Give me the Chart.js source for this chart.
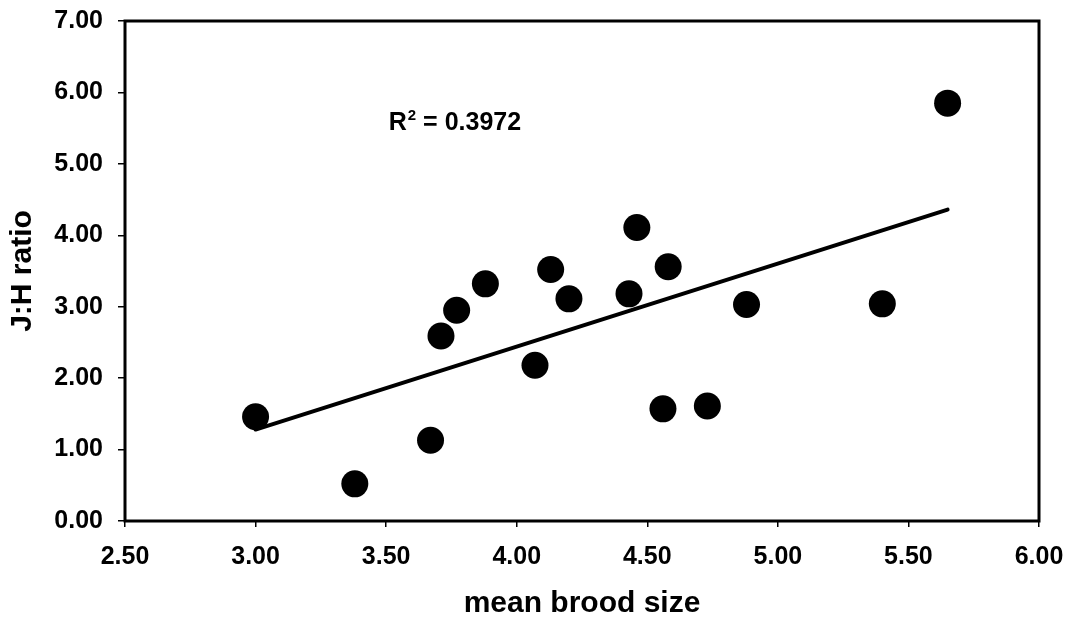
<!DOCTYPE html>
<html>
<head>
<meta charset="utf-8">
<script src="https://cdn.jsdelivr.net/npm/chart.js@4.4.1/dist/chart.umd.min.js"></script>
<style>
html, body { margin: 0; padding: 0; background: #fff; }
</style>
</head>
<body>
<canvas id="chart" width="1070" height="619"></canvas>
<script>
// mean brood size vs J:H ratio
const broodSize = [3.00, 3.38, 3.67, 3.71, 3.77, 3.88, 4.07, 4.13, 4.20, 4.43, 4.46, 4.58, 4.56, 4.73, 4.88, 5.40, 5.65];
const jhRatio   = [1.46, 0.52, 1.13, 2.59, 2.95, 3.32, 2.18, 3.52, 3.11, 3.18, 4.11, 3.56, 1.57, 1.61, 3.03, 3.04, 5.85];

// trend line, ends as drawn in the figure
const trendX = [3.00, 5.65];
const trendY = [1.28, 4.36];

const xTickLabels = ['2.50', '3.00', '3.50', '4.00', '4.50', '5.00', '5.50', '6.00'];
const yTickLabels = ['0.00', '1.00', '2.00', '3.00', '4.00', '5.00', '6.00', '7.00'];
const rSquared = '0.3972';

const FONT = '"Liberation Sans", Arial, Helvetica, sans-serif';

// box round the plot + the R^2 text
const frame = {
  id: 'frame',
  afterDraw(chart) {
    const { ctx, chartArea: a, scales } = chart;
    ctx.save();
    ctx.strokeStyle = '#000';
    ctx.lineWidth = 3;
    ctx.strokeRect(a.left, a.top, a.right - a.left, a.bottom - a.top);

    let x = scales.x.getPixelForValue(3.51);
    const y = scales.y.getPixelForValue(5.48);
    ctx.fillStyle = '#000';
    ctx.textAlign = 'left';
    ctx.textBaseline = 'alphabetic';
    ctx.font = 'bold 25px ' + FONT;
    ctx.fillText('R', x, y);
    x += ctx.measureText('R').width + 1;
    ctx.font = 'bold 15px ' + FONT;
    ctx.fillText('2', x, y - 10);
    x += ctx.measureText('2').width;
    ctx.font = 'bold 25px ' + FONT;
    ctx.fillText(' = ' + rSquared, x, y);
    ctx.restore();
  }
};

const points = broodSize.map((b, i) => ({ x: b, y: jhRatio[i] }));
const trend = trendX.map((t, i) => ({ x: t, y: trendY[i] }));

new Chart(document.getElementById('chart'), {
  type: 'scatter',
  data: {
    datasets: [
      {
        label: 'J:H ratio',
        data: points,
        pointRadius: 13.5,
        pointHoverRadius: 13.5,
        backgroundColor: '#000',
        borderWidth: 0
      },
      {
        type: 'line',
        label: 'trend',
        data: trend,
        borderColor: '#000',
        borderWidth: 4,
        borderCapStyle: 'round',
        pointRadius: 0,
        fill: false
      }
    ]
  },
  options: {
    responsive: false,
    animation: false,
    events: [],
    layout: { padding: { top: 21, right: 31, left: 0, bottom: 0 } },
    plugins: {
      legend: { display: false },
      tooltip: { enabled: false }
    },
    scales: {
      x: {
        type: 'linear',
        min: 2.5,
        max: 6,
        afterFit: s => { s.height = 98; s.paddingLeft = 0; s.paddingRight = 0; },
        ticks: {
          stepSize: 0.5,
          padding: 15,
          color: '#000',
          font: { family: FONT, size: 25, weight: 'bold' },
          callback: (v, i) => xTickLabels[i]
        },
        grid: { drawOnChartArea: false, tickLength: 6, color: '#000', lineWidth: 1.5 },
        border: { display: false },
        title: {
          display: true,
          text: 'mean brood size',
          color: '#000',
          padding: { top: 0, bottom: 0 },
          font: { family: FONT, size: 30, weight: 'bold', lineHeight: 1 }
        }
      },
      y: {
        min: 0,
        max: 7,
        afterFit: s => { s.width = 125; s.paddingTop = 0; s.paddingBottom = 0; },
        ticks: {
          stepSize: 1,
          padding: 15,
          color: '#000',
          font: { family: FONT, size: 25, weight: 'bold' },
          callback: (v, i) => yTickLabels[i]
        },
        grid: { drawOnChartArea: false, tickLength: 7, color: '#000', lineWidth: 1.5 },
        border: { display: false },
        title: {
          display: true,
          text: 'J:H ratio',
          color: '#000',
          padding: { top: 8, bottom: 0 },
          font: { family: FONT, size: 30, weight: 'bold', lineHeight: 1 }
        }
      }
    }
  },
  plugins: [frame]
});
</script>
</body>
</html>
